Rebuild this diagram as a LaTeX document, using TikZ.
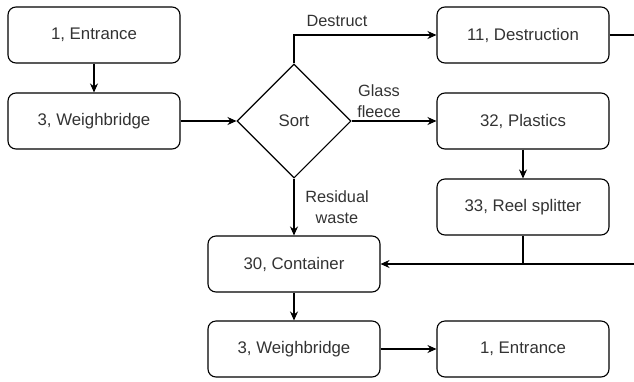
\documentclass[tikz,border=0pt]{standalone}
\usepackage{fontspec}
\setmainfont{Liberation Sans}
\usetikzlibrary{arrows.meta,shapes.geometric}

\tikzset{
  stepbox/.style={draw, rounded corners=8pt, line width=1.1pt,
    minimum width=172pt, minimum height=56pt, inner sep=0pt,
    font=\fontsize{16.8}{19}\selectfont, text=black!80},
  decision/.style={draw, diamond, aspect=1, line width=1.1pt,
    minimum width=114pt, minimum height=114pt, inner sep=0pt,
    font=\fontsize{16.8}{19}\selectfont, text=black!80},
  flow/.style={line width=1.1pt, -{Stealth[length=9pt,width=8pt]}},
  plain/.style={line width=1.1pt},
  lbl/.style={font=\fontsize{16.3}{20.5}\selectfont, text=black!80, align=center, inner sep=0pt}
}

\begin{document}
\begin{tikzpicture}[x=1pt,y=-1pt]
\useasboundingbox (0,0) rectangle (634,381);

% process steps
\node[stepbox] (entr1) at (94,35) {1, Entrance};
\node[stepbox] (wb1) at (94,121) {3, Weighbridge};
\node[decision] (sort) at (294,121) {Sort};
\node[stepbox] (destr) at (523,35) {11, Destruction};
\node[stepbox] (plast) at (523,121) {32, Plastics};
\node[stepbox] (reel) at (523,207) {33, Reel splitter};
\node[stepbox] (cont) at (294,264) {30, Container};
\node[stepbox] (wb2) at (294,349) {3, Weighbridge};
\node[stepbox] (entr2) at (523,349) {1, Entrance};

% edge labels
\node[lbl] (ldestr) at (337,21) {Destruct};
\node[lbl] (lglass) at (379,101) {Glass\\fleece};
\node[lbl] (lresid) at (337,207) {Residual\\waste};

% connectors
\draw[flow] (entr1) -- (wb1);
\draw[flow] (wb1) -- (sort.west);
\draw[flow] (sort.north) |- (destr.west);
\draw[flow] (sort.east) -- (plast.west);
\draw[flow] (sort.south) -- (cont.north);
\draw[flow] (plast) -- (reel);
\draw[flow] (cont) -- (wb2);
\draw[flow] (wb2) -- (entr2);

% return line from destruction, routed around the right side
\coordinate (retTop) at (660,35);
\coordinate (retBot) at (660,264);
\coordinate (join) at (reel.south |- cont.east);
\draw[flow] (destr.east) -- (retTop) -- (retBot) -- (cont.east);
\draw[plain] (reel.south) -- (join);
\end{tikzpicture}
\end{document}
